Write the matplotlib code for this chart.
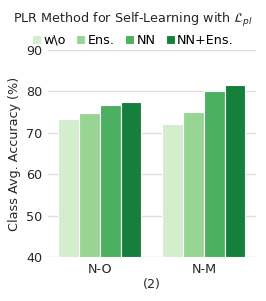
import numpy as np
import matplotlib
matplotlib.use("Agg")
import matplotlib.pyplot as plt

groups = ["N-O", "N-M"]
methods = ["w\\o", "Ens.", "NN", "NN+Ens."]
values = {
    "w\\o": [73.4, 72.2],
    "Ens.": [74.7, 75.0],
    "NN": [76.8, 80.0],
    "NN+Ens.": [77.4, 81.5],
}
colors = ["#d3eecd", "#98d594", "#4bb062", "#157f3b"]

fs = 9.2
fig = plt.figure(figsize=(2.66, 3.01), dpi=100)
ax = fig.add_axes([0.180, 0.146, 0.782, 0.688])

x = np.arange(len(groups))
w = 0.8 / len(methods)
handles = []
for i, m in enumerate(methods):
    pos = x - 0.4 + w * (i + 0.5)
    h = ax.bar(pos, np.array(values[m]) - 40, w, bottom=40, color=colors[i],
               edgecolor="white", linewidth=0.8, label=m, zorder=3)
    handles.append(h)

ax.set_xlim(-0.5, 1.5)
ax.set_ylim(40, 90)
ax.set_yticks([40, 50, 60, 70, 80, 90])
ax.set_xticks(x)
ax.set_xticklabels(groups)
ax.tick_params(axis="both", length=0, labelsize=fs, colors="#262626", pad=4)
ax.yaxis.grid(True, color="#dddddd", linewidth=1, zorder=0)
for s in ax.spines.values():
    s.set_visible(False)
ax.set_ylabel("Class Avg. Accuracy (%)", fontsize=fs, color="#262626")
ax.set_xlabel("(2)", fontsize=fs, color="#262626", labelpad=2)

fig.suptitle(r"PLR Method for Self-Learning with $\mathcal{L}_{pl}$",
             fontsize=fs, x=0.5, y=0.965, color="#262626")
fig.legend(handles, methods, loc="center", bbox_to_anchor=(0.5, 0.867), ncol=4,
           frameon=False, fontsize=fs, handlelength=0.7, handleheight=0.7,
           handletextpad=0.2, columnspacing=0.8, borderaxespad=0)

fig.savefig("out.png", dpi=100)
